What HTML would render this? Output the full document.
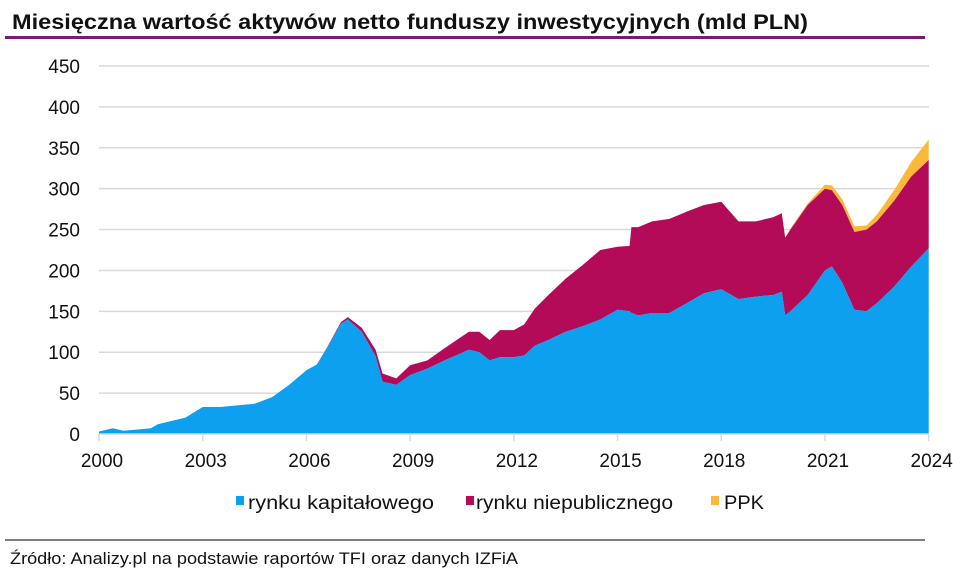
<!DOCTYPE html>
<html><head><meta charset="utf-8"><style>
body{margin:0;background:#fff;width:953px;height:575px;overflow:hidden}
svg{display:block;font-family:"Liberation Sans",Arial,sans-serif}
</style></head><body>
<svg id="chart" width="953" height="575" viewBox="0 0 953 575">
<text x="12" y="29" font-size="21" font-weight="bold" fill="#111" textLength="796" lengthAdjust="spacingAndGlyphs">Miesięczna wartość aktywów netto funduszy inwestycyjnych (mld PLN)</text>
<line x1="5" y1="37.5" x2="925" y2="37.5" stroke="#7a1a78" stroke-width="3"/>
<g id="grid"></g><g id="areas"></g><g id="axes"></g>
<g font-size="19" fill="#111">
<rect x="236" y="496" width="8" height="9" fill="#0ca0ee"/>
<text x="248" y="509" textLength="186" lengthAdjust="spacingAndGlyphs">rynku kapitałowego</text>
<rect x="466" y="496" width="8" height="9" fill="#b30b58"/>
<text x="476" y="509" textLength="197" lengthAdjust="spacingAndGlyphs">rynku niepublicznego</text>
<rect x="711" y="496" width="8" height="9" fill="#fbb93a"/>
<text x="724" y="509" textLength="40" lengthAdjust="spacingAndGlyphs">PPK</text>
</g>
<line x1="5" y1="540" x2="925" y2="540" stroke="#555" stroke-width="1.5"/>
<text x="10" y="564" font-size="17" fill="#111" textLength="508" lengthAdjust="spacingAndGlyphs">Źródło: Analizy.pl na podstawie raportów TFI oraz danych IZFiA</text>
</svg>
<script>
const years=[2000.0,2000.4,2000.7,2001.0,2001.5,2001.7,2002.0,2002.5,2003.0,2003.5,2004.0,2004.5,2005.0,2005.5,2006.0,2006.3,2006.6,2007.0,2007.2,2007.6,2008.0,2008.2,2008.6,2009.0,2009.5,2010.0,2010.7,2011.0,2011.3,2011.6,2012.0,2012.3,2012.6,2013.0,2013.5,2014.0,2014.5,2015.0,2015.35,2015.4,2015.6,2016.0,2016.5,2017.0,2017.5,2018.0,2018.5,2019.0,2019.5,2019.75,2019.85,2020.0,2020.5,2021.0,2021.2,2021.5,2021.85,2022.2,2022.5,2023.0,2023.5,2024.0];
const capital=[3,7,4,5,7,12,15,20,33,33,35,37,45,60,78,85,105,135,140,125,95,64,60,72,80,90,103,100,90,94,94,96,108,115,125,132,140,152,150,148,145,148,148,160,172,177,165,168,170,174,145,150,170,200,205,185,152,150,160,180,205,227];
const priv=[0,0,0,0,0,0,0,0,0,0,0,0,0,0,0,0,1,2,3,5,8,10,8,12,10,15,22,25,25,33,33,38,45,55,65,75,85,77,80,105,108,112,115,112,108,107,95,92,95,96,95,100,110,100,93,95,95,100,100,105,110,108];
const ppk=[0,0,0,0,0,0,0,0,0,0,0,0,0,0,0,0,0,0,0,0,0,0,0,0,0,0,0,0,0,0,0,0,0,0,0,0,0,0,0,0,0,0,0,0,0,0,0,0,0,0,0,1,2,5,6,7,7,5,8,13,18,25];
const yTicks=[0,50,100,150,200,250,300,350,400,450];
const xTicks=[2000,2003,2006,2009,2012,2015,2018,2021,2024];
const NS='http://www.w3.org/2000/svg';
const X=t=>99+(t-2000)*34.57;
const Y=v=>434-v*0.8178;
const grid=document.getElementById('grid'),areas=document.getElementById('areas'),axes=document.getElementById('axes');
yTicks.forEach(v=>{
  if(v>0){const l=document.createElementNS(NS,'line');
  
  
  l.setAttribute('x1',99);l.setAttribute('x2',929);l.setAttribute('y1',Y(v));l.setAttribute('y2',Y(v));
  l.setAttribute('stroke','#d9d9d9');l.setAttribute('stroke-width','1.5');grid.appendChild(l);}
  const t=document.createElementNS(NS,'text');
  
  
  t.setAttribute('x',80);t.setAttribute('y',Y(v)+7);t.setAttribute('text-anchor','end');
  t.setAttribute('font-size','19');t.setAttribute('fill','#111');t.textContent=v;axes.appendChild(t);
});
function band(lo,hi,color,name){
  let d='';
  years.forEach((t,i)=>{d+=(i?'L':'M')+X(t).toFixed(1)+','+Y(hi[i]).toFixed(1);});
  for(let i=years.length-1;i>=0;i--)d+='L'+X(years[i]).toFixed(1)+','+Y(lo[i]).toFixed(1);
  const p=document.createElementNS(NS,'path');
  
  
  p.setAttribute('d',d+'Z');p.setAttribute('fill',color);areas.appendChild(p);
}
const zero=years.map(()=>0);
const s1=capital.slice();
const s2=capital.map((v,i)=>v+priv[i]);
const s3=s2.map((v,i)=>v+ppk[i]);
band(s2,s3,'#fbb93a','area-ppk');
band(s1,s2,'#b30b58','area-private-market');
band(zero,s1,'#0ca0ee','area-capital-market');
const ax=document.createElementNS(NS,'line');


ax.setAttribute('x1',99);ax.setAttribute('x2',929);ax.setAttribute('y1',434);ax.setAttribute('y2',434);
ax.setAttribute('stroke','#d9d9d9');ax.setAttribute('stroke-width','1.5');axes.appendChild(ax);
xTicks.forEach(y=>{
  const tk=document.createElementNS(NS,'line');
  
  
  tk.setAttribute('x1',X(y));tk.setAttribute('x2',X(y));tk.setAttribute('y1',434);tk.setAttribute('y2',441);
  tk.setAttribute('stroke','#d9d9d9');tk.setAttribute('stroke-width','1.5');axes.appendChild(tk);
  const t=document.createElementNS(NS,'text');
  
  
  t.setAttribute('x',X(y)+3);t.setAttribute('y',467);t.setAttribute('text-anchor','middle');
  t.setAttribute('font-size','19');t.setAttribute('fill','#111');t.textContent=y;axes.appendChild(t);
});
</script>
</body></html>
